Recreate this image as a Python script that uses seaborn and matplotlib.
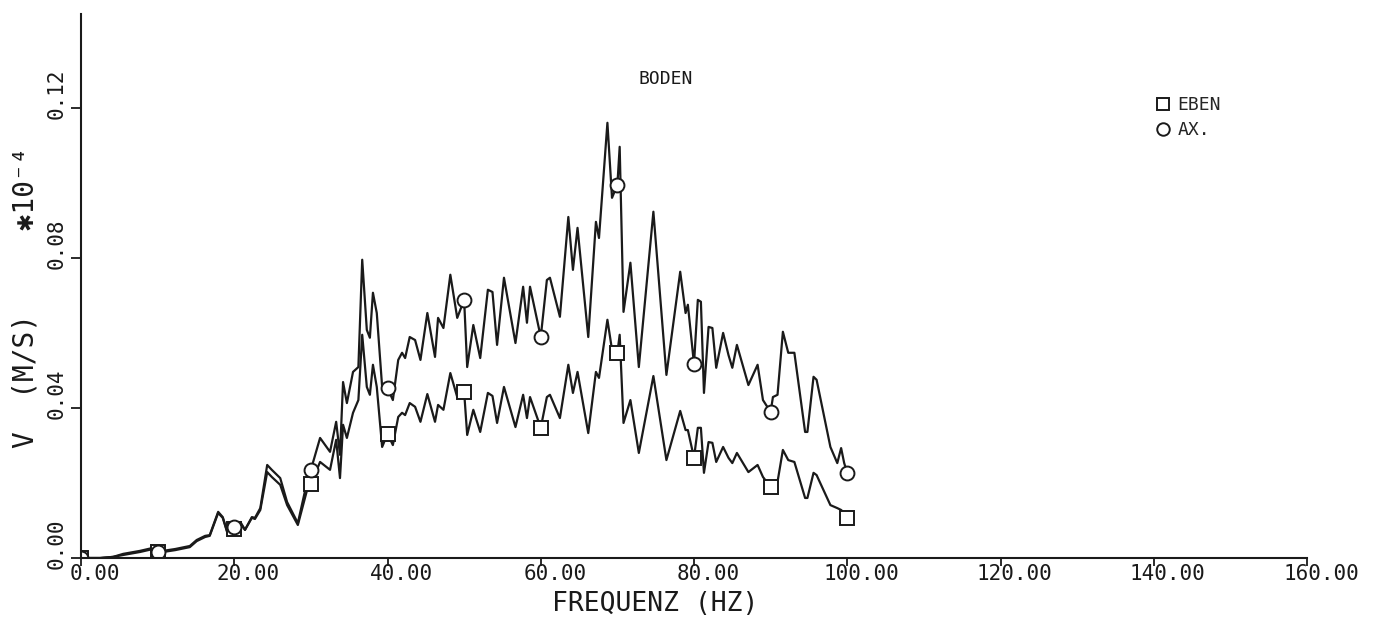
import numpy as np
import pandas as pd
import seaborn as sns
import matplotlib.pyplot as plt
from matplotlib.transforms import ScaledTranslation

# Frequency grid (Hz) of the traced vertices
freq = [0, 2.5, 4.2, 5.5, 7.7, 9.4, 10, 10.7, 12.3, 14.2,
        15.1, 16.2, 16.8, 17.9, 18.5, 19.1, 20, 20.8, 21.4, 22.3,
        22.7, 23.4, 24.3, 24.9, 26.0, 26.9, 28.3, 29.5, 30, 31.2,
        32.5, 33.3, 33.8, 34.2, 34.7, 35.5, 36.2, 36.7, 37.3, 37.7,
        38.1, 38.6, 39.3, 40, 40.7, 41.4, 41.9, 42.3, 42.9, 43.6,
        44.3, 45.2, 46.2, 46.6, 47.3, 48.2, 49.1, 50, 50.4, 51.2,
        52.1, 53.1, 53.7, 54.3, 55.2, 56.7, 57.7, 58.2, 58.6, 60,
        60.8, 61.2, 62.5, 63.6, 64.2, 64.8, 66.2, 67.2, 67.6, 68.7,
        69.3, 70, 70.3, 70.8, 71.7, 72.8, 74.7, 76.4, 78.2, 78.9,
        79.2, 80, 80.5, 80.9, 81.3, 81.9, 82.4, 82.9, 83.8, 84.5,
        85.0, 85.6, 87.1, 88.3, 89.0, 90, 90.3, 90.9, 91.6, 92.3,
        93.1, 94.5, 94.8, 95.6, 96.0, 97.8, 98.7, 99.2, 99.6, 100]

# V (M/S) * 1e-4, axial excitation
ax_vals = [0, 0, 0.0003, 0.0011, 0.0019, 0.0027, 0.0016, 0.0019, 0.0024, 0.0032,
           0.0048, 0.0059, 0.0061, 0.0123, 0.0109, 0.0069, 0.0083, 0.0096, 0.0075, 0.0109,
           0.0107, 0.0133, 0.0248, 0.0235, 0.0213, 0.0149, 0.0093, 0.0203, 0.0235, 0.0320,
           0.0283, 0.0363, 0.0275, 0.0469, 0.0413, 0.0496, 0.0509, 0.0795, 0.0608, 0.0587,
           0.0707, 0.0653, 0.0456, 0.0453, 0.0421, 0.0528, 0.0547, 0.0533, 0.0589, 0.0581,
           0.0528, 0.0653, 0.0536, 0.0640, 0.0613, 0.0755, 0.0640, 0.0688, 0.0509, 0.0621,
           0.0533, 0.0715, 0.0709, 0.0568, 0.0747, 0.0573, 0.0723, 0.0627, 0.0723, 0.0589,
           0.0741, 0.0747, 0.0643, 0.0909, 0.0768, 0.0880, 0.0589, 0.0896, 0.0853, 0.1160,
           0.0960, 0.0995, 0.1096, 0.0656, 0.0787, 0.0509, 0.0923, 0.0488, 0.0763, 0.0653,
           0.0675, 0.0517, 0.0688, 0.0683, 0.0440, 0.0616, 0.0613, 0.0507, 0.0600, 0.0541,
           0.0507, 0.0568, 0.0461, 0.0515, 0.0421, 0.0389, 0.0429, 0.0435, 0.0603, 0.0547,
           0.0547, 0.0336, 0.0336, 0.0483, 0.0475, 0.0296, 0.0253, 0.0293, 0.0253, 0.0227]

# V (M/S) * 1e-4, plane excitation
eben_vals = [0, 0, 0.0003, 0.0008, 0.0016, 0.0024, 0.0016, 0.0016, 0.0021, 0.0029,
             0.0045, 0.0056, 0.0059, 0.0120, 0.0107, 0.0067, 0.0077, 0.0093, 0.0075, 0.0107,
             0.0104, 0.0128, 0.0229, 0.0216, 0.0195, 0.0141, 0.0088, 0.0181, 0.0197, 0.0256,
             0.0235, 0.0315, 0.0213, 0.0355, 0.0320, 0.0387, 0.0421, 0.0595, 0.0456, 0.0435,
             0.0515, 0.0456, 0.0296, 0.0331, 0.0301, 0.0376, 0.0387, 0.0381, 0.0413, 0.0403,
             0.0363, 0.0437, 0.0363, 0.0408, 0.0395, 0.0493, 0.0429, 0.0443, 0.0328, 0.0395,
             0.0336, 0.0440, 0.0432, 0.0360, 0.0456, 0.0349, 0.0435, 0.0373, 0.0429, 0.0347,
             0.0429, 0.0435, 0.0373, 0.0515, 0.0440, 0.0496, 0.0333, 0.0496, 0.0480, 0.0635,
             0.0555, 0.0547, 0.0595, 0.0360, 0.0421, 0.0280, 0.0485, 0.0261, 0.0392, 0.0341,
             0.0341, 0.0267, 0.0347, 0.0347, 0.0227, 0.0309, 0.0307, 0.0256, 0.0296, 0.0267,
             0.0253, 0.0280, 0.0229, 0.0248, 0.0216, 0.0189, 0.0203, 0.0203, 0.0288, 0.0261,
             0.0256, 0.0160, 0.0160, 0.0227, 0.0221, 0.0141, 0.0133, 0.0128, 0.0120, 0.0107]

x_ticks = [0, 20, 40, 60, 80, 100, 120, 140, 160]
x_labels = ['0.00', '20.00', '40.00', '60.00', '80.00', '100.00', '120.00', '140.00', '160.00']
y_ticks = [0.0, 0.04, 0.08, 0.12]
y_labels = ['0.00', '0.04', '0.08', '0.12']

df = pd.DataFrame({'freq': freq, 'EBEN': eben_vals, 'AX.': ax_vals})
marks = df[df['freq'] % 10 == 0]

sns.set_style('ticks')
plt.rcParams['font.family'] = ['DejaVu Sans Mono', 'DejaVu Sans']
ink = '#1a1a1a'

fig = plt.figure(figsize=(13.91, 6.26), dpi=100)
ax = fig.add_axes([81 / 1391, 68 / 626, 1226 / 1391, 544 / 626])

sns.lineplot(data=df, x='freq', y='AX.', ax=ax, color=ink, lw=1.6)
sns.lineplot(data=df, x='freq', y='EBEN', ax=ax, color=ink, lw=1.6)
ax.plot(marks['freq'], marks['EBEN'], 's', ms=10, mfc='white', mec=ink, mew=1.4, label='EBEN')
ax.plot(marks['freq'], marks['AX.'], 'o', ms=10, mfc='white', mec=ink, mew=1.4, label='AX.')

ax.set_xlim(0, 160)
ax.set_ylim(0, 0.145)
sns.despine(ax=ax)
for s in ['left', 'bottom']:
    ax.spines[s].set_color(ink)
    ax.spines[s].set_linewidth(1.5)

ax.set_xticks(x_ticks)
ax.set_xticklabels(x_labels, fontsize=15, color=ink)
ax.set_yticks(y_ticks)
ax.set_yticklabels(y_labels, fontsize=15, color=ink, rotation=90, va='center')
ax.tick_params(axis='x', direction='out', length=6, width=1.3, color=ink, pad=-2)
ax.tick_params(axis='y', direction='out', length=7, width=1.3, color=ink, pad=3)

# plotter labels sit a bit off the tick marks
for lab in ax.get_xticklabels():
    lab.set_transform(lab.get_transform() + ScaledTranslation(14 / 100, 0, fig.dpi_scale_trans))
for lab in ax.get_yticklabels():
    lab.set_transform(lab.get_transform() + ScaledTranslation(0, 14 / 100, fig.dpi_scale_trans))

ax.set_xlabel('FREQUENZ (HZ)', fontsize=19, color=ink)
ax.xaxis.set_label_coords(0.468, -0.084)
ax.xaxis.label.set_va('center')
ax.set_ylabel('V  (M/S)     ✱10⁻⁴', fontsize=20, color=ink)
ax.yaxis.set_label_coords(-0.045, 0.48)
ax.yaxis.label.set_va('center')

fig.text(666 / 1391, 1 - 79 / 626, 'BODEN', fontsize=13, color=ink, ha='center', va='center')

ax.legend(loc='upper left', bbox_to_anchor=(1136 / 1391, 1 - 80 / 626),
          bbox_transform=fig.transFigure, frameon=False, fontsize=13,
          handletextpad=0.2, handlelength=1.2, labelspacing=0.4, markerscale=0.9)

fig.savefig('out.png', dpi=100)
